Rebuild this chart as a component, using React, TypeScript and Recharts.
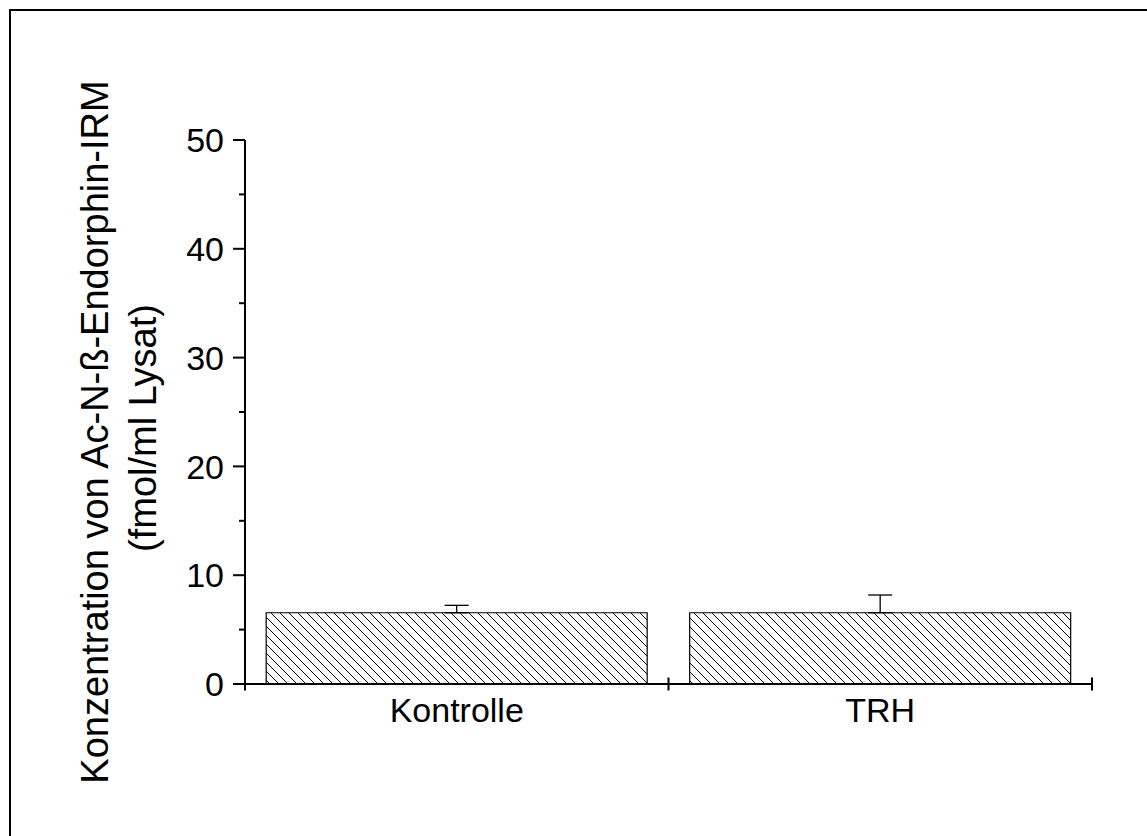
import { BarChart, Bar, XAxis, YAxis, ErrorBar } from 'recharts';

const groups = ['Kontrolle', 'TRH'];
const means = [6.55, 6.55];
const sem = [0.68, 1.63];
const yTicks = [0, 5, 10, 15, 20, 25, 30, 35, 40, 45, 50];
const yTitle = ['Konzentration von Ac-N-ß-Endorphin-IRM', '(fmol/ml Lysat)'];

const FONT = '"Liberation Sans", Arial, sans-serif';

// one-sided error bars: nothing below the mean, sem above it
const data = groups.map((group, i) => ({
  group,
  value: means[i],
  err: [0, sem[i]],
}));

function XTick(props: any) {
  const { x, y, payload, index, visibleTicksCount } = props;
  const half = payload.offset ?? 0;
  const isLast = index === visibleTicksCount - 1;
  return (
    <g>
      <line x1={x - half} x2={x - half} y1={y - 6.5} y2={y + 6.5} stroke="#000" strokeWidth={2} />
      {isLast && (
        <line x1={x + half} x2={x + half} y1={y - 6.5} y2={y + 6.5} stroke="#000" strokeWidth={2} />
      )}
      <text x={x} y={y + 38} textAnchor="middle" fontSize={34} fill="#000" fontFamily={FONT}>
        {payload.value}
      </text>
    </g>
  );
}

function YTick(props: any) {
  const { x, y, payload } = props;
  const major = payload.value % 10 === 0;
  return (
    <g>
      <line x1={x - (major ? 12 : 6)} x2={x} y1={y} y2={y} stroke="#000" strokeWidth={2} />
      {major && (
        <text x={x - 21} y={y} dy="0.36em" textAnchor="end" fontSize={34} fill="#000" fontFamily={FONT}>
          {payload.value}
        </text>
      )}
    </g>
  );
}

function YTitle() {
  return (
    <g fontFamily={FONT} fill="#000" fontSize={38}>
      <text x={108} y={432} textAnchor="middle" transform="rotate(-90 108 432)">
        {yTitle[0]}
      </text>
      <text x={156} y={428} textAnchor="middle" transform="rotate(-90 156 428)">
        {yTitle[1]}
      </text>
    </g>
  );
}

export default function App() {
  return (
    <div style={{ position: 'relative', width: 1147, height: 836, background: '#fff' }}>
      <style>{'body { margin: 0; }'}</style>
      <div
        style={{
          position: 'absolute',
          left: 9,
          top: 9,
          right: 0,
          bottom: 0,
          borderTop: '2.4px solid #000',
          borderLeft: '2.4px solid #000',
        }}
      />
      <div style={{ position: 'absolute', left: 0, top: 0 }}>
        <BarChart
          width={1147}
          height={836}
          data={data}
          margin={{ top: 140, right: 55, bottom: 92, left: 0 }}
          barCategoryGap="5%"
        >
          <defs>
            <pattern id="hatch" width={9} height={9} patternUnits="userSpaceOnUse">
              <rect width={9} height={9} fill="#fff" />
              <path d="M-2,-2 L11,11 M-2,7 L2,11 M7,-2 L11,2" stroke="#000" strokeWidth={1} />
            </pattern>
          </defs>
          <XAxis
            dataKey="group"
            height={60}
            axisLine={{ stroke: '#000', strokeWidth: 2 }}
            tickLine={false}
            tickSize={0}
            tickMargin={0}
            tick={<XTick />}
            interval={0}
          />
          <YAxis
            width={245}
            domain={[0, 50]}
            ticks={yTicks}
            interval={0}
            axisLine={{ stroke: '#000', strokeWidth: 2 }}
            tickLine={false}
            tickSize={0}
            tickMargin={0}
            tick={<YTick />}
            label={<YTitle />}
          />
          <Bar dataKey="value" fill="url(#hatch)" stroke="#000" strokeWidth={1.2} isAnimationActive={false}>
            <ErrorBar dataKey="err" direction="y" width={12} stroke="#000" strokeWidth={1.3} />
          </Bar>
        </BarChart>
      </div>
    </div>
  );
}
